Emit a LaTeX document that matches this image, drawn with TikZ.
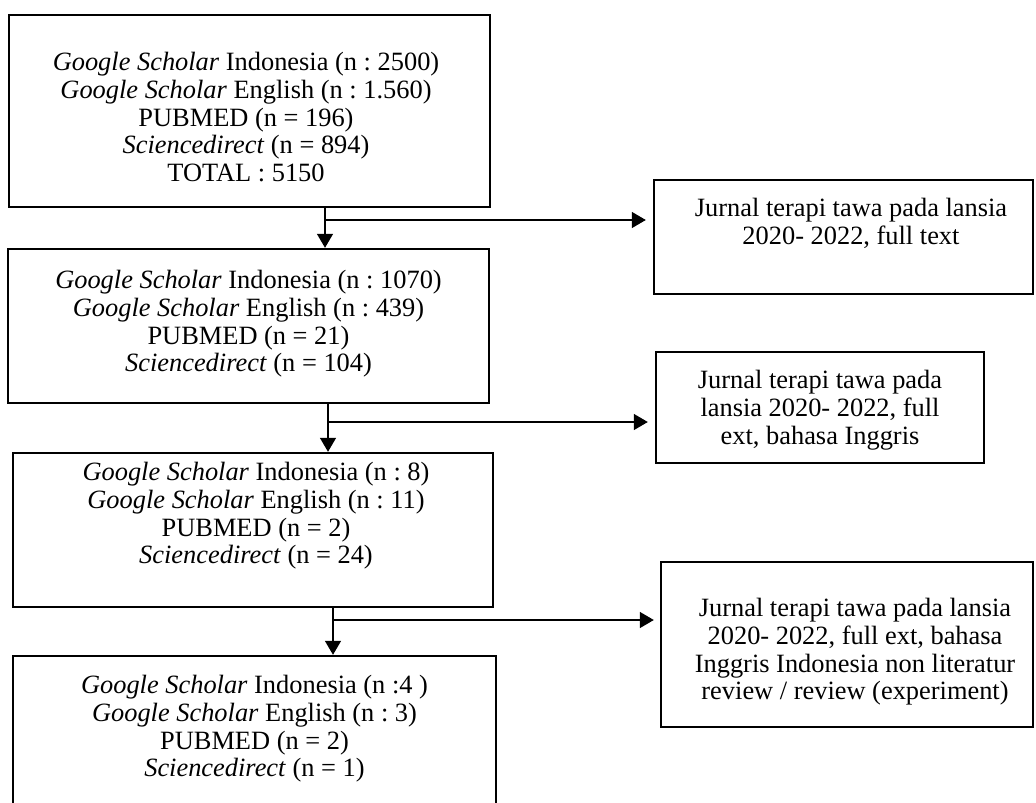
\documentclass[tikz,border=0pt]{standalone}
\usepackage{fontspec}
\setmainfont{Liberation Serif}
\usetikzlibrary{arrows.meta}
\frenchspacing
\begin{document}
\begin{tikzpicture}[x=0.5pt,y=-0.5pt,
  box/.style={draw, line width=1.2pt, inner sep=0pt, rectangle},
  txt/.style={align=center, inner sep=0pt, font=\fontsize{13.2}{13.85}\selectfont, anchor=north},
  conn/.style={line width=0.7pt},
  arr/.style={conn, -{Triangle[length=7pt,width=8pt]}}]
\clip (0,0) rectangle (1036,802);
% left column boxes
\node[box, minimum width=240.5pt, minimum height=96pt] (b1) at (249.5,111) {};
\node[txt] (b1t) at (246,51) {\strut\textit{Google Scholar} Indonesia (n : 2500)\\ \textit{Google Scholar} English (n : 1.560)\\ PUBMED (n = 196)\\ \textit{Sciencedirect} (n = 894)\\ TOTAL : 5150};
\node[box, minimum width=240.5pt, minimum height=77pt] (b2) at (248.5,326) {};
\node[txt] (b2t) at (248.5,269) {\strut\textit{Google Scholar} Indonesia (n : 1070)\\ \textit{Google Scholar} English (n : 439)\\ PUBMED (n = 21)\\ \textit{Sciencedirect} (n = 104)};
\node[box, minimum width=240pt, minimum height=77pt] (b3) at (253,530) {};
\node[txt] (b3t) at (256,461) {\strut\textit{Google Scholar} Indonesia (n : 8)\\ \textit{Google Scholar} English (n : 11)\\ PUBMED (n = 2)\\ \textit{Sciencedirect} (n = 24)};
\node[box, minimum width=241.5pt, minimum height=92pt] (b4) at (254.5,748) {};
\node[txt] (b4t) at (254.5,674) {\strut\textit{Google Scholar} Indonesia (n :4 )\\ \textit{Google Scholar} English (n : 3)\\ PUBMED (n = 2)\\ \textit{Sciencedirect} (n = 1)};
% right column boxes
\node[box, minimum width=189.5pt, minimum height=57pt] (r1) at (843.5,237) {};
\node[txt] (r1t) at (851,197) {\strut Jurnal terapi tawa pada lansia\\ 2020- 2022, full text};
\node[box, minimum width=164pt, minimum height=55.5pt] (r2) at (820,407.5) {};
\node[txt] (r2t) at (820,369) {\strut Jurnal terapi tawa pada\\ lansia 2020- 2022, full\\ ext, bahasa Inggris};
\node[box, minimum width=186pt, minimum height=82.5pt] (r3) at (847,644.5) {};
\node[txt] (r3t) at (855,597) {\strut Jurnal terapi tawa pada lansia\\ 2020- 2022, full ext, bahasa\\ Inggris Indonesia non literatur\\ review / review (experiment)};
% connectors
\coordinate (c1) at (325,220);
\coordinate (c2) at (328,422);
\coordinate (c3) at (333,620);
\draw[arr] (c1 |- b1.south) -- (c1 |- b2.north);
\draw[arr, shorten >=3.5pt] (c1) -- (c1 -| r1.west);
\draw[arr] (c2 |- b2.south) -- (c2 |- b3.north);
\draw[arr, shorten >=3.5pt] (c2) -- (c2 -| r2.west);
\draw[arr] (c3 |- b3.south) -- (c3 |- b4.north);
\draw[arr, shorten >=3pt] (c3) -- (c3 -| r3.west);
\end{tikzpicture}
\end{document}
